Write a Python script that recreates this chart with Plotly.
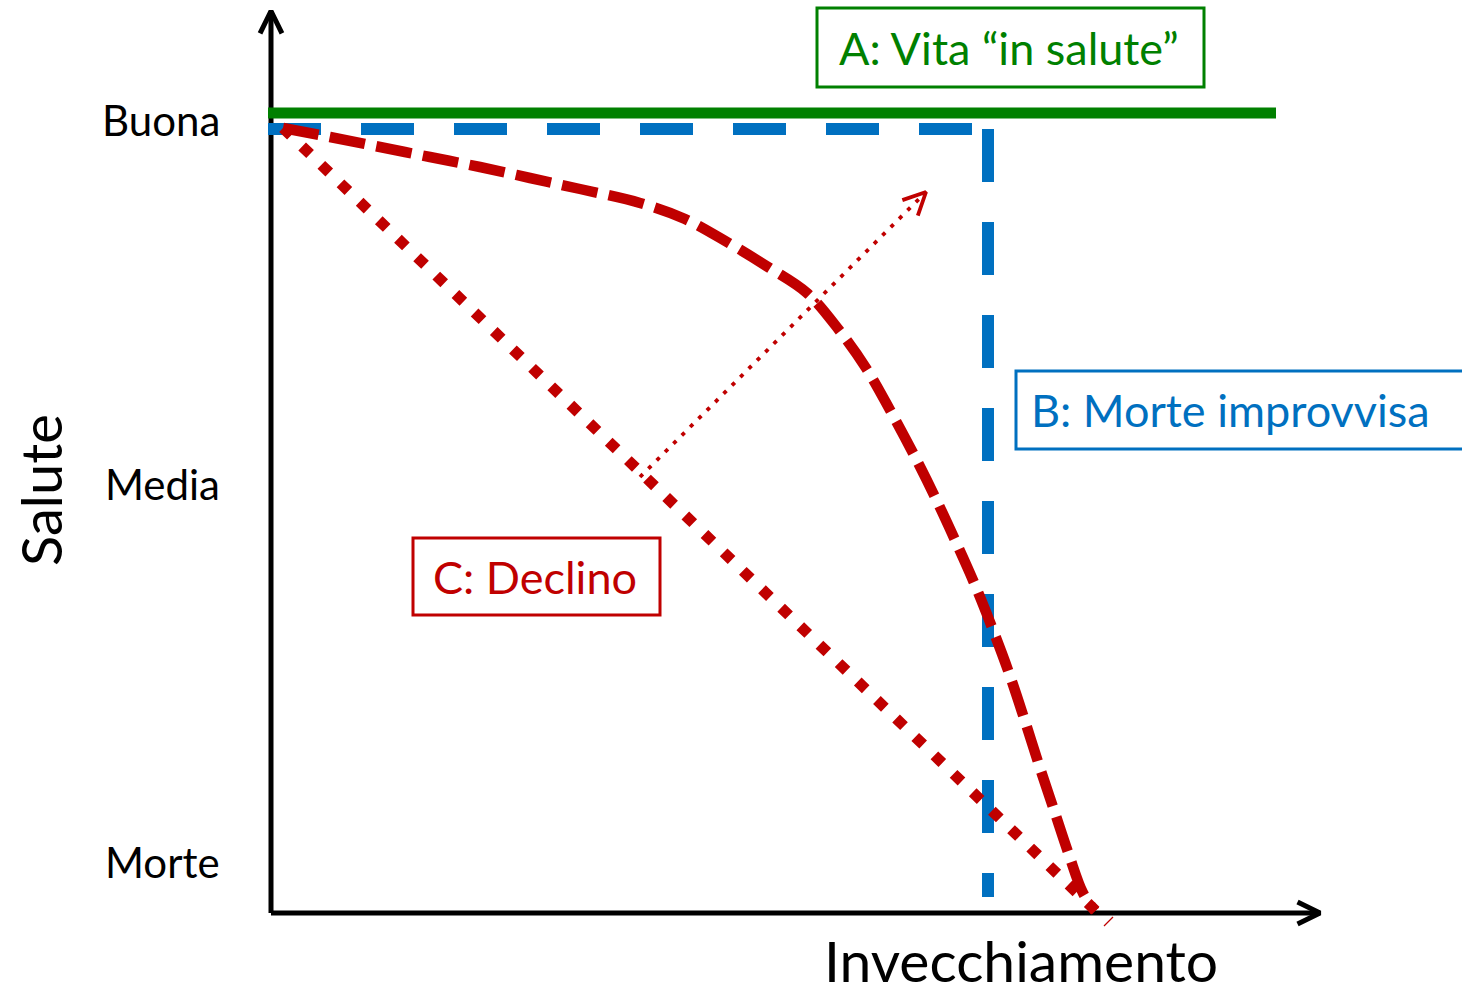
import numpy as np
import plotly.graph_objects as go

# Health levels on the vertical axis
level_labels = ["Buona", "Media", "Morte"]
level_values = [79.3, 42.9, 5.1]

# Scenario A: good health all life long
healthy_x = [-0.3, 100.5]
healthy_y = [80.0, 80.0]

# Scenario B: good health, then sudden death
sudden_top_x = [-0.3, 71.7]
sudden_top_y = [78.4, 78.4]
sudden_drop_x = [71.7, 71.7]
sudden_drop_y = [78.4, 1.6]

# Scenario C: progressive decline (curved path)
decline_curve_x = [1.2, 5.9, 10.9, 15.9, 20.9, 25.9, 30.9, 36.9, 41.4, 45.6,
                   49.7, 53.6, 56.8, 59.5, 61.9, 64.2, 66.4, 68.4, 70.4, 72.2,
                   73.8, 75.3, 76.8, 78.3, 79.8, 81.2, 82.4]
decline_curve_y = [78.5, 77.6, 76.6, 75.6, 74.6, 73.5, 72.4, 71.0, 69.4, 67.1,
                   64.6, 62.0, 58.3, 54.5, 50.3, 46.0, 41.6, 37.3, 32.8, 28.3,
                   24.0, 19.5, 14.8, 10.3, 5.8, 2.0, 0.2]

# Scenario C: progressive decline (linear path)
decline_line_x = [1.2, 82.6]
decline_line_y = [78.5, 0.1]

# Shift from linear decline towards compressed morbidity
shift_x = [36.9, 65.5]
shift_y = [43.6, 72.1]
mark_x = [83.3, 84.2]
mark_y = [-1.3, -0.4]

# Axis extents
x_axis_end = 104.9
y_axis_end = 90.2

GREEN = "#008000"
BLUE = "#0070C0"
RED = "#C00000"
FONT = "Lato, 'Open Sans', sans-serif"


def chevron(tip_x, tip_y, from_x, from_y, length, half_angle):
    """Open arrowhead: two arms meeting at the tip of a segment."""
    d = np.array([tip_x - from_x, tip_y - from_y], dtype=float)
    d /= np.linalg.norm(d)
    back = -d
    pts = []
    for s in (1, -1):
        a = np.radians(s * half_angle)
        r = np.array([back[0] * np.cos(a) - back[1] * np.sin(a),
                      back[0] * np.sin(a) + back[1] * np.cos(a)])
        pts.append((tip_x + length * r[0], tip_y + length * r[1]))
    return [pts[0][0], tip_x, pts[1][0]], [pts[0][1], tip_y, pts[1][1]]


def line(x, y, color, width, dash="solid", shape="linear"):
    return go.Scatter(x=x, y=y, mode="lines", hoverinfo="skip", showlegend=False,
                      line=dict(color=color, width=width, dash=dash, shape=shape),
                      cliponaxis=False)


fig = go.Figure()

# Axes with open arrowheads
fig.add_trace(line([0, 0], [0, y_axis_end], "black", 5))
fig.add_trace(line([0, x_axis_end], [0, 0], "black", 5))
cx, cy = chevron(0, y_axis_end, 0, 0, 2.5, 26)
fig.add_trace(line(cx, cy, "black", 5))
cx, cy = chevron(x_axis_end, 0, 0, 0, 2.5, 26)
fig.add_trace(line(cx, cy, "black", 5))

# A: healthy life
fig.add_trace(line(healthy_x, healthy_y, GREEN, 11))

# B: sudden death
fig.add_trace(line(sudden_top_x, sudden_top_y, BLUE, 12, dash="53px,40px"))
fig.add_trace(line(sudden_drop_x, sudden_drop_y, BLUE, 12, dash="53px,40px"))

# C: decline
fig.add_trace(line(decline_line_x, decline_line_y, RED, 11, dash="11px,15.6px"))
fig.add_trace(line(decline_curve_x, decline_curve_y, RED, 10.5, dash="36px,11.5px",
                   shape="spline"))
fig.add_trace(line(mark_x, mark_y, RED, 1.2))

# Shift arrow
fig.add_trace(line(shift_x, shift_y, RED, 3.8, dash="4px,7.8px"))
cx, cy = chevron(shift_x[1], shift_y[1], shift_x[0], shift_y[0], 2.5, 26)
fig.add_trace(line(cx, cy, RED, 3.8))

annotations = []
for lab, val in zip(level_labels, level_values):
    annotations.append(dict(x=-4.9, y=val, xref="x", yref="y", text=lab,
                            showarrow=False, xanchor="right", yanchor="middle",
                            font=dict(family=FONT, size=42, color="black")))

annotations.append(dict(x=-23.1, y=42.3, xref="x", yref="y", text="Salute",
                        showarrow=False, textangle=-90, xanchor="center",
                        yanchor="middle",
                        font=dict(family=FONT, size=56, color="black")))
annotations.append(dict(x=75.0, y=-4.7, xref="x", yref="y", text="Invecchiamento",
                        showarrow=False, xanchor="center", yanchor="middle",
                        font=dict(family=FONT, size=57, color="black")))

# Boxed scenario labels
boxes = [
    ("A: Vita “in salute”", GREEN, 54.6, 93.3, 82.6, 90.5, 73.8),
    ("B: Morte improvvisa", BLUE, 74.5, 119.9, 46.4, 54.2, 95.9),
    ("C: Declino", RED, 14.2, 38.9, 29.8, 37.5, 26.4),
]
shapes = []
for text, color, x0, x1, y0, y1, tx in boxes:
    shapes.append(dict(type="rect", xref="x", yref="y", x0=x0, x1=x1, y0=y0, y1=y1,
                       line=dict(color=color, width=3), fillcolor="rgba(0,0,0,0)"))
    annotations.append(dict(x=tx, y=(y0 + y1) / 2, xref="x", yref="y", text=text,
                            showarrow=False, xanchor="center", yanchor="middle",
                            font=dict(family=FONT, size=45, color=color)))

fig.update_layout(
    width=1462, height=993, autosize=False,
    margin=dict(l=0, r=0, t=0, b=0),
    paper_bgcolor="white", plot_bgcolor="white",
    xaxis=dict(range=[-27.1, 119.1], visible=False, fixedrange=True),
    yaxis=dict(range=[-8.0, 91.3], visible=False, fixedrange=True),
    shapes=shapes, annotations=annotations,
)

fig.write_html("out.html", config={"displayModeBar": False})
